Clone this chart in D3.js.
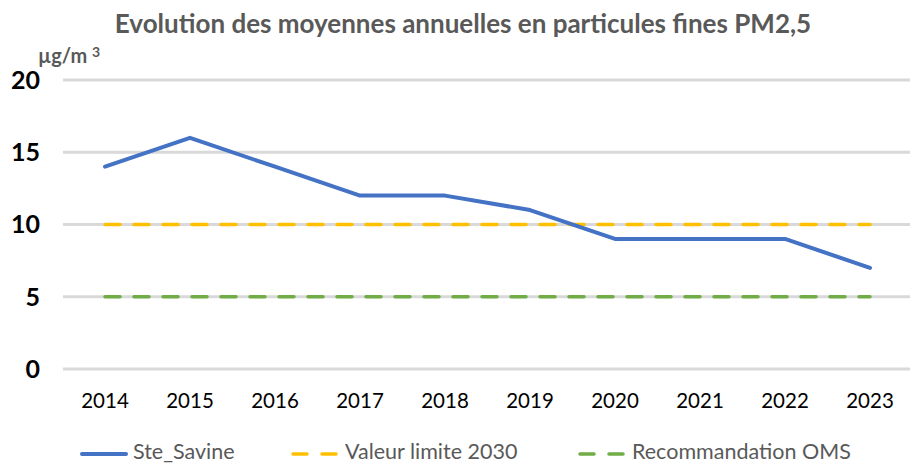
<!DOCTYPE html>
<html>
<head>
<meta charset="utf-8">
<script src="https://cdn.jsdelivr.net/npm/d3@7"></script>
<style>
  body { margin: 0; background: #fff; }
  svg { display: block; font-family: Lato, "Open Sans", sans-serif; }
</style>
</head>
<body>
<svg width="910" height="464"></svg>
<script>
var years = ["2014", "2015", "2016", "2017", "2018", "2019", "2020", "2021", "2022", "2023"];
var steSavine = [14, 16, 14, 12, 12, 11, 9, 9, 9, 7];
var valeurLimite = [10, 10, 10, 10, 10, 10, 10, 10, 10, 10];
var recoOMS = [5, 5, 5, 5, 5, 5, 5, 5, 5, 5];
var yTicks = [0, 5, 10, 15, 20];

var series = [
  {name: "Ste_Savine", values: steSavine, color: "#4472C4", dash: null},
  {name: "Valeur limite 2030", values: valeurLimite, color: "#FFC000", dash: "15,14"},
  {name: "Recommandation OMS", values: recoOMS, color: "#70AD47", dash: "15,14"}
];

var svg = d3.select("svg");
var width = +svg.attr("width");

var x = d3.scalePoint()
  .domain(years)
  .range([105, 870]);
var y = d3.scaleLinear()
  .domain([0, 20])
  .range([369, 80]);

// title
svg.append("text")
  .attr("x", 463)
  .attr("y", 33)
  .attr("text-anchor", "middle")
  .style("font-size", "26px")
  .style("font-weight", "bold")
  .style("fill", "#595959")
  .text("Evolution des moyennes annuelles en particules fines PM2,5");

// unit
var unit = svg.append("text")
  .attr("x", 38)
  .attr("y", 63)
  .style("font-size", "20px")
  .style("font-weight", "bold")
  .style("fill", "#595959")
  .text("µg/m ");
unit.append("tspan")
  .attr("dy", -6)
  .style("font-size", "14px")
  .text("3");

// grid
svg.append("g")
  .selectAll("line")
  .data(yTicks)
  .enter().append("line")
  .attr("x1", 63)
  .attr("x2", width)
  .attr("y1", function(d) { return y(d); })
  .attr("y2", function(d) { return y(d); })
  .style("stroke", "#D9D9D9")
  .style("stroke-width", 3);

// y axis labels
svg.append("g")
  .selectAll("text")
  .data(yTicks)
  .enter().append("text")
  .attr("x", 40)
  .attr("y", function(d) { return y(d); })
  .attr("dy", "0.35em")
  .attr("text-anchor", "end")
  .style("font-size", "25px")
  .style("font-weight", "bold")
  .style("fill", "#000")
  .text(function(d) { return d; });

// x axis labels
svg.append("g")
  .selectAll("text")
  .data(years)
  .enter().append("text")
  .attr("x", function(d) { return x(d); })
  .attr("y", 408)
  .attr("text-anchor", "middle")
  .style("font-size", "20.5px")
  .style("fill", "#000")
  .text(function(d) { return d; });

// lines, limit lines first so blue sits on top
var line = d3.line()
  .x(function(d, i) { return x(years[i]); })
  .y(function(d) { return y(d); });

svg.append("g")
  .selectAll("path")
  .data(series.slice().reverse())
  .enter().append("path")
  .attr("d", function(d) { return line(d.values); })
  .style("fill", "none")
  .style("stroke", function(d) { return d.color; })
  .style("stroke-width", function(d) { return d.dash ? 3.5 : 4; })
  .style("stroke-linecap", "round")
  .style("stroke-linejoin", "round")
  .style("stroke-dasharray", function(d) { return d.dash; });

// legend
var legendX = [80, 291, 578];
var legend = svg.append("g")
  .selectAll("g")
  .data(series)
  .enter().append("g")
  .attr("transform", function(d, i) { return "translate(" + legendX[i] + ",454)"; });

legend.append("line")
  .attr("x1", 2)
  .attr("x2", 46)
  .style("stroke", function(d) { return d.color; })
  .style("stroke-width", function(d) { return d.dash ? 3.5 : 4; })
  .style("stroke-linecap", "round")
  .style("stroke-dasharray", function(d) { return d.dash ? "14,15" : null; });

legend.append("text")
  .attr("x", function(d, i) { return i == 0 ? 53 : 54; })
  .attr("y", 4.5)
  .style("font-size", "21.5px")
  .style("fill", "#595959")
  .text(function(d) { return d.name; });
</script>
</body>
</html>
